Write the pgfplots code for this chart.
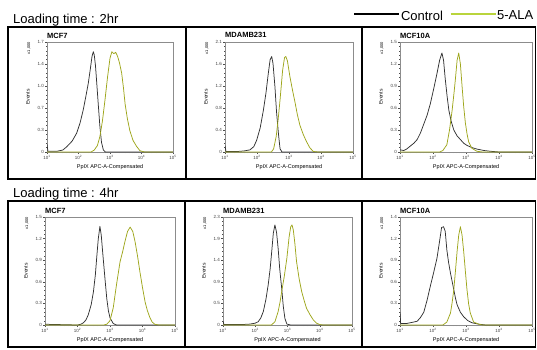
\documentclass[border=0pt]{standalone}
\usepackage{fontspec}
\setmainfont{Liberation Sans}
\usepackage{pgfplots}
\pgfplotsset{compat=1.18}
\definecolor{ctrl}{RGB}{50,50,50}
\definecolor{ala}{RGB}{158,166,28}
\definecolor{alaleg}{RGB}{185,212,60}
\definecolor{framec}{RGB}{140,140,140}

\pgfplotsset{
 every axis title shift=0pt,
 panel/.style={
  scale only axis, anchor=south west,
  xmin=1,xmax=5,ymin=0,
  axis line style={framec, line width=0.4pt},
  xtick={1,2,3,4,5},
  xticklabels={10\textsuperscript{1},10\textsuperscript{2},10\textsuperscript{3},10\textsuperscript{4},10\textsuperscript{5}},
  minor xtick={1.301,1.477,1.602,1.699,1.778,1.845,1.903,1.954,2.301,2.477,2.602,2.699,2.778,2.845,2.903,2.954,3.301,3.477,3.602,3.699,3.778,3.845,3.903,3.954,4.301,4.477,4.602,4.699,4.778,4.845,4.903,4.954},
  minor y tick num=4,
  xtick pos=bottom, ytick pos=left,
  tick align=outside,
  major tick length=2pt, minor tick length=1pt,
  tick style={black!70, line width=0.3pt},
  tick label style={font=\fontsize{4.5}{5}\selectfont, text=black!75, inner sep=1pt},
  xlabel={PpIX APC-A-Compensated},
  ylabel={Events},
  xlabel style={font=\fontsize{5.5}{6}\selectfont, at={([yshift=-15pt]axis description cs:0.5,0)}, anchor=center, inner sep=0pt},
  ylabel style={font=\fontsize{5}{6}\selectfont, at={([xshift=-19pt]axis description cs:0,0.5)}, anchor=center, inner sep=0pt},
  title style={font=\fontsize{7.5}{8}\selectfont\bfseries, at={([yshift=4pt]axis description cs:0,1)}, anchor=base west, inner sep=0pt},
  extra description/.code={\node[rotate=90, anchor=east, inner sep=0pt, font=\fontsize{4}{4.5}\selectfont] at ([xshift=-18pt]0,1) {x1,000};},
  every axis plot/.append style={line width=0.75pt, line join=round, no markers},
 },
 ctrl/.style={color=ctrl, forget plot},
 ala/.style={color=ala, forget plot},
}

\begin{document}
\begin{tikzpicture}[x=1pt,y=1pt]
\path[use as bounding box] (0,0) rectangle (537,349);

% ---------------- titles and boxes
\node[anchor=base west, inner sep=0pt, font=\fontsize{13}{15}\selectfont] at (13,325) {Loading time : 2hr};
\node[anchor=base west, inner sep=0pt, font=\fontsize{13}{15}\selectfont] at (13,152) {Loading time : 4hr};
\draw[line width=1.5pt] (8,322) rectangle (535.5,170);
\draw[line width=1.5pt] (186,322) -- (186,170);
\draw[line width=1.5pt] (362,322) -- (362,170);
\draw[line width=1.5pt] (8,148) rectangle (535.5,2);
\draw[line width=1.5pt] (185,148) -- (185,2);
\draw[line width=1.5pt] (362,148) -- (362,2);

% ---------------- 2hr MCF7
\begin{axis}[panel, at={(47pt,197pt)}, width=126pt, height=110pt, ymax=1.7,
  title={MCF7},
  ytick={0,0.34,0.68,1.02,1.36,1.7}, yticklabels={0,0.3,0.7,1.0,1.4,1.7}]
\addplot[ctrl] coordinates {(1,0.12)(1.03,0.01)(1.3,0.01)(1.5,0.03)(1.625,0.08)(1.8,0.17)(1.94,0.29)(2.05,0.45)(2.15,0.65)(2.23,0.85)(2.31,1.06)(2.38,1.3)(2.43,1.48)(2.47,1.55)(2.5,1.5)(2.54,1.33)(2.58,1.06)(2.63,0.72)(2.68,0.39)(2.73,0.15)(2.79,0.03)(2.85,0.0)(5,0)};
\addplot[ala] coordinates {(1,0)(2.4,0)(2.5,0.03)(2.6,0.1)(2.68,0.24)(2.76,0.48)(2.84,0.8)(2.92,1.15)(3.0,1.45)(3.06,1.55)(3.12,1.52)(3.18,1.54)(3.24,1.48)(3.3,1.38)(3.37,1.22)(3.43,0.98)(3.48,0.74)(3.55,0.52)(3.63,0.33)(3.73,0.18)(3.84,0.09)(3.95,0.02)(4.1,0)(5,0)};
\end{axis}

% ---------------- 2hr MDAMB231
\begin{axis}[panel, at={(225pt,197pt)}, width=128pt, height=110pt, ymax=2.05,
  title={MDAMB231},
  ytick={0,0.41,0.82,1.23,1.64,2.05}, yticklabels={0,0.4,0.8,1.2,1.6,2.1}]
\addplot[ctrl] coordinates {(1,0.12)(1.03,0.01)(1.4,0.01)(1.6,0.02)(1.78,0.04)(1.9,0.1)(1.99,0.22)(2.1,0.45)(2.2,0.78)(2.28,1.1)(2.35,1.45)(2.41,1.72)(2.46,1.78)(2.5,1.65)(2.56,1.22)(2.61,0.75)(2.67,0.34)(2.72,0.06)(2.78,0)(5,0)};
\addplot[ala] coordinates {(1,0)(2.45,0)(2.52,0.06)(2.6,0.29)(2.66,0.6)(2.72,0.97)(2.8,1.52)(2.86,1.76)(2.9,1.78)(2.95,1.7)(3.03,1.4)(3.11,1.15)(3.19,0.92)(3.26,0.7)(3.34,0.5)(3.45,0.32)(3.55,0.19)(3.65,0.08)(3.76,0.01)(3.9,0)(5,0)};
\end{axis}

% ---------------- 2hr MCF10A (with legend)
\begin{axis}[panel, at={(400pt,197pt)}, width=132pt, height=110pt, ymax=1.5,
  title={MCF10A},
  ytick={0,0.3,0.6,0.9,1.2,1.5}, yticklabels={0,0.3,0.6,0.9,1.2,1.5},
  legend columns=2,
  legend image code/.code={\draw[#1, line width=2.2pt] (0pt,2.5pt) -- (45pt,2.5pt);},
  legend style={at={(axis description cs:1.015,1.234)}, anchor=east, draw=none, fill=none,
    inner sep=0pt, font=\fontsize{13}{14}\selectfont, nodes={inner sep=0.5pt},
    /tikz/every even column/.append style={column sep=6pt}}]
\addlegendimage{black}
\addlegendentry{Control}
\addlegendimage{alaleg}
\addlegendentry{5-ALA}
\addplot[ctrl] coordinates {(1,0.03)(1.11,0.02)(1.2,0.04)(1.31,0.08)(1.42,0.12)(1.52,0.17)(1.62,0.26)(1.72,0.38)(1.82,0.5)(1.92,0.66)(2.02,0.86)(2.12,1.07)(2.2,1.25)(2.27,1.35)(2.32,1.25)(2.37,1.0)(2.43,0.75)(2.48,0.57)(2.55,0.42)(2.63,0.3)(2.73,0.22)(2.83,0.17)(2.93,0.12)(3.03,0.09)(3.18,0.06)(3.33,0.04)(3.55,0.02)(3.74,0.01)(4,0)(5,0)};
\addplot[ala] coordinates {(1,0)(2.2,0)(2.3,0.02)(2.42,0.1)(2.5,0.3)(2.58,0.57)(2.64,0.82)(2.68,1.0)(2.73,1.25)(2.78,1.35)(2.83,1.2)(2.88,0.9)(2.93,0.62)(2.98,0.4)(3.03,0.25)(3.08,0.14)(3.18,0.05)(3.33,0.01)(3.5,0)(5,0)};
\end{axis}

% ---------------- 4hr MCF7
\begin{axis}[panel, at={(45pt,24pt)}, width=130pt, height=108pt, ymax=1.5,
  title={MCF7},
  ytick={0,0.3,0.6,0.9,1.2,1.5}, yticklabels={0,0.3,0.6,0.9,1.2,1.5}]
\addplot[ctrl] coordinates {(1,0.01)(2.0,0.0)(2.1,0.01)(2.18,0.03)(2.26,0.07)(2.33,0.14)(2.42,0.28)(2.49,0.46)(2.55,0.7)(2.59,0.93)(2.64,1.2)(2.69,1.37)(2.73,1.25)(2.79,0.93)(2.85,0.62)(2.9,0.37)(2.95,0.2)(3.0,0.1)(3.1,0.02)(3.2,0)(5,0)};
\addplot[ala] coordinates {(1,0)(2.8,0)(2.9,0.01)(3.0,0.06)(3.1,0.24)(3.2,0.56)(3.31,0.88)(3.39,1.02)(3.46,1.16)(3.54,1.3)(3.62,1.36)(3.7,1.3)(3.77,1.16)(3.85,0.95)(3.92,0.74)(4.0,0.52)(4.08,0.32)(4.15,0.2)(4.23,0.1)(4.3,0.04)(4.38,0.01)(4.5,0)(5,0)};
\end{axis}

% ---------------- 4hr MDAMB231
\begin{axis}[panel, at={(223pt,24pt)}, width=129pt, height=108pt, ymax=2.33,
  title={MDAMB231},
  ytick={0,0.466,0.932,1.398,1.864,2.33}, yticklabels={0,0.5,0.9,1.4,1.9,2.3}]
\addplot[ctrl] coordinates {(1,0.08)(1.03,0.01)(1.6,0.01)(1.84,0.02)(2.0,0.04)(2.09,0.07)(2.17,0.15)(2.25,0.29)(2.33,0.55)(2.4,0.86)(2.46,1.2)(2.51,1.58)(2.56,1.98)(2.61,2.16)(2.66,2.0)(2.71,1.65)(2.76,1.2)(2.82,0.79)(2.87,0.4)(2.92,0.14)(2.98,0.02)(3.1,0)(5,0)};
\addplot[ala] coordinates {(1,0)(2.5,0)(2.61,0.07)(2.71,0.29)(2.77,0.5)(2.82,0.72)(2.9,1.05)(2.98,1.44)(3.05,1.9)(3.1,2.12)(3.14,2.16)(3.18,2.05)(3.23,1.75)(3.28,1.37)(3.36,1.0)(3.44,0.72)(3.52,0.52)(3.59,0.36)(3.7,0.22)(3.8,0.11)(3.9,0.04)(4.0,0.01)(4.1,0)(5,0)};
\end{axis}

% ---------------- 4hr MCF10A
\begin{axis}[panel, at={(400pt,24pt)}, width=132pt, height=108pt, ymax=1.44,
  title={MCF10A},
  ytick={0,0.288,0.576,0.864,1.152,1.44}, yticklabels={0,0.3,0.6,0.9,1.2,1.4}]
\addplot[ctrl] coordinates {(1,0.17)(1.02,0.02)(1.2,0.02)(1.31,0.03)(1.42,0.04)(1.52,0.05)(1.62,0.1)(1.72,0.17)(1.82,0.33)(1.92,0.52)(2.02,0.7)(2.12,0.89)(2.2,1.12)(2.26,1.3)(2.32,1.31)(2.37,1.25)(2.42,1.0)(2.47,0.84)(2.53,0.69)(2.58,0.58)(2.63,0.47)(2.68,0.36)(2.73,0.27)(2.83,0.17)(2.93,0.11)(3.05,0.06)(3.18,0.03)(3.4,0.01)(3.6,0)(5,0)};
\addplot[ala] coordinates {(1,0)(2.3,0)(2.42,0.04)(2.53,0.16)(2.58,0.3)(2.63,0.47)(2.68,0.72)(2.73,0.98)(2.78,1.2)(2.83,1.31)(2.88,1.2)(2.93,0.98)(2.98,0.72)(3.03,0.47)(3.08,0.28)(3.13,0.16)(3.23,0.04)(3.39,0.01)(3.5,0)(5,0)};
\end{axis}
\end{tikzpicture}
\end{document}
